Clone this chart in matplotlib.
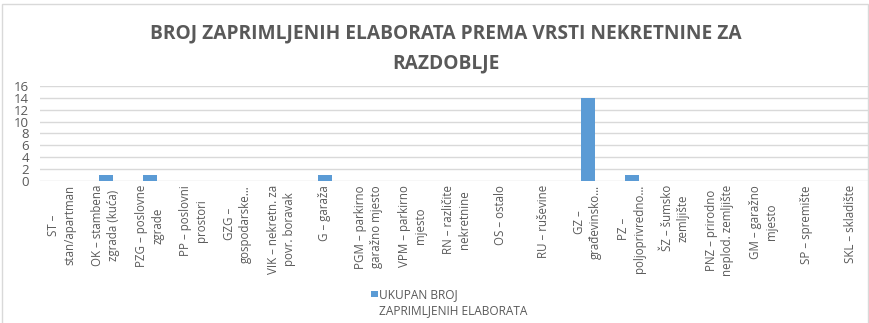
import numpy as np
import matplotlib.pyplot as plt
from matplotlib.patches import Rectangle

# vrste nekretnina i broj zaprimljenih elaborata
kategorije = ["ST –\nstan/apartman", "OK – stambena\nzgrada (kuća)", "PZG – poslovne\nzgrade",
              "PP – poslovni\nprostori", "GZG –\ngospodarske…", "VIK – nekretn. za\npovr. boravak",
              "G – garaža", "PGM – parkirno\ngaražno mjesto", "VPM – parkirno\nmjesto",
              "RN – različite\nnekretnine", "OS – ostalo", "RU – ruševine",
              "GZ –\ngrađevinsko…", "PZ –\npoljoprivredno…", "ŠZ – šumsko\nzemljište",
              "PNZ – prirodno\nneplod. zemljište", "GM – garažno\nmjesto", "SP – spremište",
              "SKL – skladište"]
broj = [0, 1, 1, 0, 0, 0, 1, 0, 0, 0, 0, 0, 14, 1, 0, 0, 0, 0, 0]
y_ticks = [0, 2, 4, 6, 8, 10, 12, 14, 16]
serija = "UKUPAN BROJ\nZAPRIMLJENIH ELABORATA"

siva = "#595959"
plava = "#5B9BD5"
plt.rcParams['font.family'] = ['Open Sans', 'DejaVu Sans']

fig = plt.figure(figsize=(8.7, 3.23), dpi=100)
ax = fig.add_axes([0.046, 0.44, 0.957, 0.294])

x = np.arange(len(kategorije))
ax.bar(x, broj, width=0.32, color=plava, zorder=3)
ax.set_xlim(-0.5, len(kategorije) - 0.5)
ax.set_ylim(0, 16)
ax.set_yticks(y_ticks)
ax.tick_params(axis='y', length=0, labelsize=9.5, colors=siva, pad=8)
ax.set_xticks(x)
ax.set_xticklabels(kategorije, rotation=90, fontsize=8.3, color=siva,
                   va='top', ha='center', multialignment='center', linespacing=1.3)
ax.tick_params(axis='x', length=0, pad=3)
ax.grid(axis='y', color='#D9D9D9', linewidth=1, zorder=0)
for s in ax.spines.values():
    s.set_visible(False)

fig.text(0.512, 0.895, "BROJ ZAPRIMLJENIH ELABORATA PREMA VRSTI NEKRETNINE ZA",
         ha='center', va='center', fontsize=13.8, fontweight='bold', color=siva)
fig.text(0.512, 0.805, "RAZDOBLJE",
         ha='center', va='center', fontsize=13.8, fontweight='bold', color=siva)

# legenda: kvadratić uz prvi red teksta
fig.patches.append(Rectangle((0.4265, 0.081), 0.0075, 0.018, transform=fig.transFigure,
                             facecolor=plava, edgecolor='none'))
fig.text(0.436, 0.108, serija, ha='left', va='top', fontsize=8.6, color=siva, linespacing=1.3)

# okvir grafikona
fig.patches.append(Rectangle((0.002, -0.01), 0.996, 0.998, transform=fig.transFigure,
                             fill=False, edgecolor='#D9D9D9', linewidth=1))

fig.savefig("out.png", dpi=100)
